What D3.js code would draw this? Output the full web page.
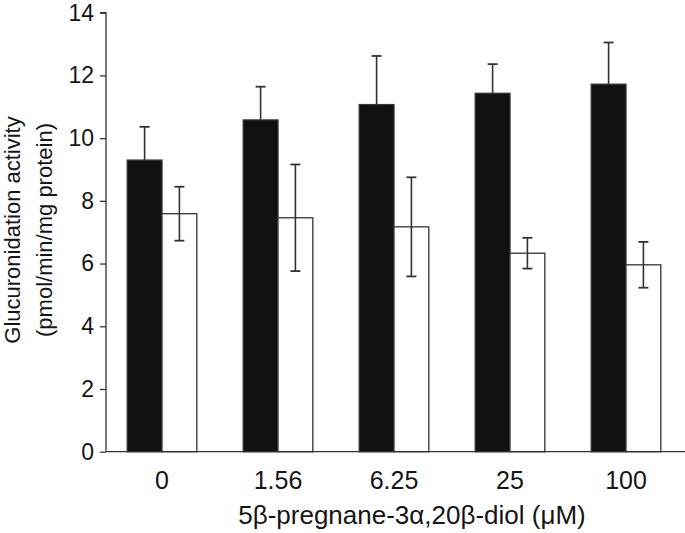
<!DOCTYPE html>
<html>
<head>
<meta charset="utf-8">
<script src="https://cdn.jsdelivr.net/npm/d3@7"></script>
<style>
  html, body { margin: 0; padding: 0; background: #fff; }
  svg { display: block; }
  text { font-family: "Liberation Sans", Arial, sans-serif; fill: #151515; }
</style>
</head>
<body>
<svg id="chart" width="685" height="533"></svg>
<script>
// Data
const categories = ["0", "1.56", "6.25", "25", "100"];
const seriesNames = ["black", "white"];
const blackValues = [9.30, 10.58, 11.07, 11.43, 11.72];
const blackErrors = [1.06, 1.06, 1.55, 0.93, 1.33];
const whiteValues = [7.59, 7.46, 7.17, 6.33, 5.96];
const whiteErrors = [0.86, 1.70, 1.58, 0.49, 0.73];
const yTicks = [0, 2, 4, 6, 8, 10, 12, 14];
const xTitle = "5β-pregnane-3α,20β-diol (μM)";
const yTitle = ["Glucuronidation activity", "(pmol/min/mg protein)"];

const svg = d3.select("#chart");
const axisX = 106;
const x0 = d3.scaleBand().domain(categories).range([104, 684]).paddingInner(0.4).paddingOuter(0.2);
const x1 = d3.scaleBand().domain(seriesNames).range([0, x0.bandwidth()]).padding(0);
const y = d3.scaleLinear().domain([0, 14]).range([451.7, 12.7]);

const rows = categories.map((c, i) => ({
  cat: c,
  bars: [
    { s: "black", v: blackValues[i], e: blackErrors[i] },
    { s: "white", v: whiteValues[i], e: whiteErrors[i] }
  ]
}));

const groups = svg.append("g").selectAll("g").data(rows).join("g")
  .attr("transform", d => `translate(${x0(d.cat)},0)`);

groups.selectAll("rect").data(d => d.bars).join("rect")
  .attr("x", d => x1(d.s))
  .attr("y", d => y(d.v))
  .attr("width", x1.bandwidth())
  .attr("height", d => y(0) - y(d.v))
  .attr("fill", d => d.s === "black" ? "#111" : "#fff")
  .attr("stroke", "#333")
  .attr("stroke-width", 1.3);

// error bars
groups.selectAll("g.err").data(d => d.bars).join("g").attr("class", "err")
  .each(function(d) {
    const g = d3.select(this);
    const cx = x1(d.s) + x1.bandwidth() / 2;
    const lo = d.s === "black" ? d.v : d.v - d.e;
    const hi = d.v + d.e;
    g.append("line").attr("x1", cx).attr("x2", cx).attr("y1", y(lo)).attr("y2", y(hi))
      .attr("stroke", "#333").attr("stroke-width", 1.6);
    g.append("line").attr("x1", cx - 5).attr("x2", cx + 5).attr("y1", y(hi)).attr("y2", y(hi))
      .attr("stroke", "#333").attr("stroke-width", 1.8);
    if (d.s !== "black") {
      g.append("line").attr("x1", cx - 5).attr("x2", cx + 5).attr("y1", y(lo)).attr("y2", y(lo))
        .attr("stroke", "#333").attr("stroke-width", 1.8);
    }
  });

// Y axis
const yAxis = svg.append("g").attr("transform", `translate(${axisX},0)`)
  .call(d3.axisLeft(y).tickValues(yTicks).tickSize(6).tickPadding(6).tickFormat(d3.format("d")));
yAxis.select(".domain").attr("stroke", "#333").attr("stroke-width", 1.3).attr("d", `M-6,${y(14)}H0V${y(0)}`);
yAxis.selectAll(".tick line").attr("stroke", "#333").attr("stroke-width", 1.3);
yAxis.selectAll(".tick text").attr("font-size", 23).attr("font-family", "Liberation Sans, Arial, sans-serif").attr("fill", "#151515");

// X axis
const xAxis = svg.append("g").attr("transform", `translate(0,${y(0)})`)
  .call(d3.axisBottom(x0).tickSize(0).tickPadding(20));
xAxis.select(".domain").attr("stroke", "#333").attr("stroke-width", 1.3).attr("d", `M${axisX},0H685`);
xAxis.selectAll(".tick text").attr("font-size", 25).attr("font-family", "Liberation Sans, Arial, sans-serif").attr("fill", "#151515");

// Titles
svg.append("text").attr("x", 412).attr("y", 524).attr("text-anchor", "middle")
  .attr("font-size", 26).text(xTitle);

yTitle.forEach((t, i) => {
  svg.append("text")
    .attr("transform", `translate(${20 + i * 32},230) rotate(-90)`)
    .attr("text-anchor", "middle").attr("font-size", 22).text(t);
});
</script>
</body>
</html>
